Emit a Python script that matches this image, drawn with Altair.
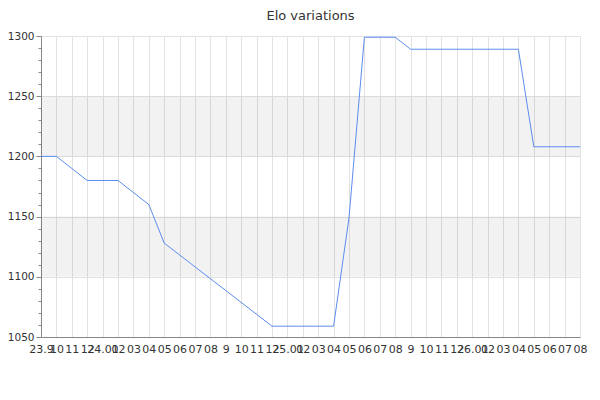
import altair as alt
import pandas as pd

# x-axis month labels (Sep 2023 .. Aug 2026), as shown in the chart
month_labels = ["23.9", "10", "11", "12", "24.01", "02", "03", "04", "05", "06", "07", "08",
                "9", "10", "11", "12", "25.01", "02", "03", "04", "05", "06", "07", "08",
                "9", "10", "11", "12", "26.01", "02", "03", "04", "05", "06", "07", "08"]

# line vertices: month index and Elo value
point_month = [0, 1, 3, 5, 7, 8, 15, 19, 20, 21, 23, 24, 31, 32, 35]
elo_values = [1200, 1200, 1180, 1180, 1160, 1128, 1059, 1059, 1149, 1299, 1299, 1289, 1289, 1208, 1208]

# shaded bands
band_low = [1100, 1200]
band_high = [1150, 1250]

y_min, y_max = 1050, 1300

W, H = 539, 301

line_df = pd.DataFrame({"m": point_month, "elo": elo_values})
band_df = pd.DataFrame({"lo": band_low, "hi": band_high})

n = len(month_labels)
label_js = "[" + ",".join("'%s'" % s for s in month_labels) + "]"

x_scale = alt.Scale(domain=[0, n - 1], nice=False, zero=False)
y_scale = alt.Scale(domain=[y_min, y_max], nice=False, zero=False)

major = "datum.value % 50 === 0"
y_axis = alt.Axis(
    values=list(range(y_min, y_max + 1, 10)),
    title=None,
    format="d",
    labelExpr=f"({major}) ? datum.label : ''",
    tickSize={"condition": {"test": major, "value": 5}, "value": 3},
    gridOpacity={"condition": {"test": major, "value": 1}, "value": 0},
    gridColor="#e2e2e2",
    domainColor="#888888",
    tickColor="#888888",
    labelColor="#333333",
    labelFontSize=10.5,
    labelPadding=2,
)
x_axis = alt.Axis(
    values=list(range(n)),
    title=None,
    labelExpr=f"{label_js}[datum.value]",
    labelOverlap=False,
    labelFlush=False,
    ticks=False,
    gridColor="#e2e2e2",
    domainColor="#888888",
    labelColor="#333333",
    labelFontSize=11,
    labelPadding=6,
)

bands = alt.Chart(band_df).mark_rect(fill="black", opacity=0.05).encode(
    y=alt.Y("lo:Q", scale=y_scale, axis=y_axis),
    y2="hi:Q",
    x=alt.value(0),
    x2=alt.value(W),
)

line = alt.Chart(line_df).mark_line(color="#5b8def", strokeWidth=1).encode(
    x=alt.X("m:Q", scale=x_scale, axis=x_axis),
    y=alt.Y("elo:Q", scale=y_scale, axis=y_axis),
)

chart = alt.layer(bands, line).properties(
    width=W,
    height=H,
    title=alt.Title("Elo variations", fontSize=13, fontWeight="normal", color="#333333",
                    font="DejaVu Sans", offset=8),
    autosize=alt.AutoSizeParams(type="none"),
    padding={"left": 33, "top": 28, "right": 12, "bottom": 30},
).configure_view(stroke=None).configure(font="DejaVu Sans")

chart.save("out.html", embed_options={"renderer": "svg", "actions": False})
